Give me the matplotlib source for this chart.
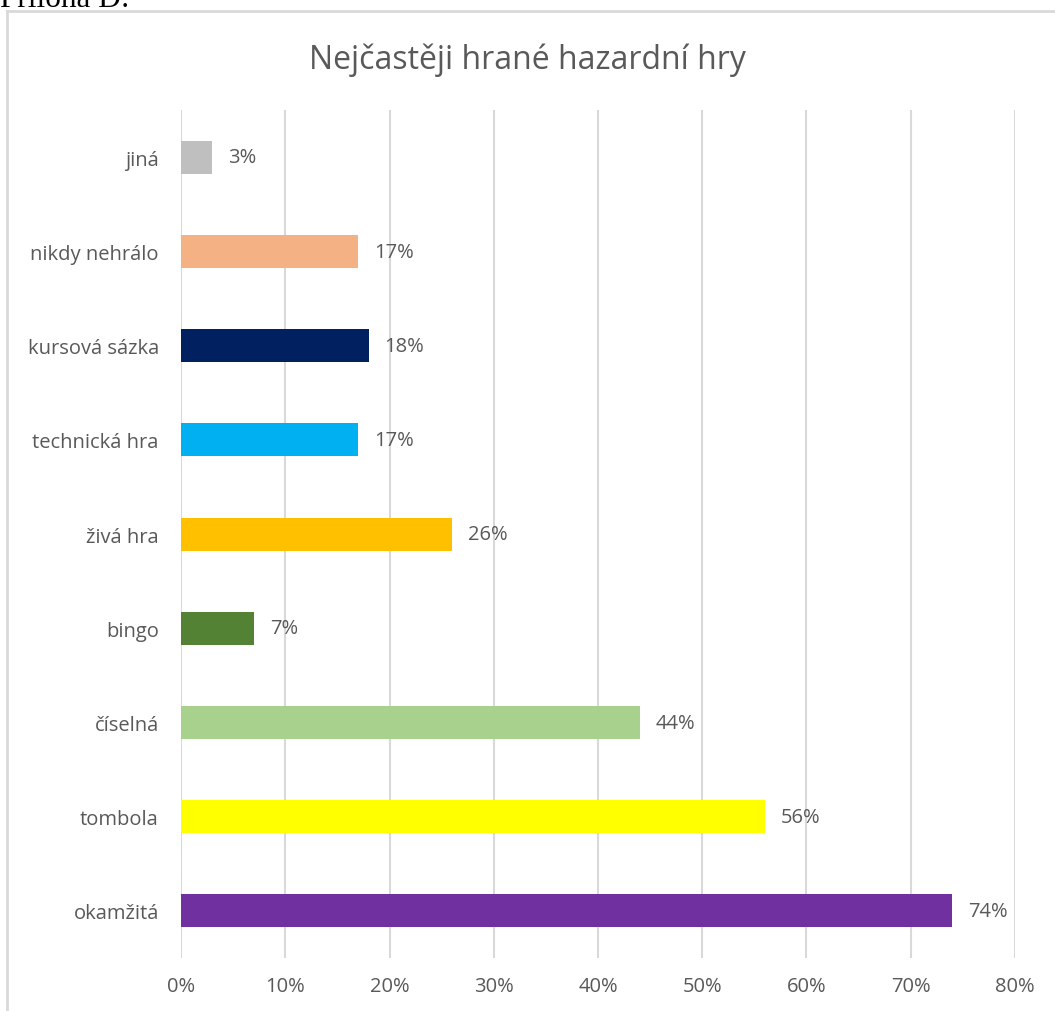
import matplotlib
matplotlib.use("Agg")
import matplotlib.pyplot as plt
from matplotlib.lines import Line2D
from matplotlib.ticker import FuncFormatter

categories = ["okamžitá", "tombola", "číselná", "bingo", "živá hra",
              "technická hra", "kursová sázka", "nikdy nehrálo", "jiná"]
values = [74, 56, 44, 7, 26, 17, 18, 17, 3]
colors = ["#7030A0", "#FFFF00", "#A9D18E", "#548235", "#FFC000",
          "#00B0F0", "#002060", "#F4B183", "#BFBFBF"]
x_ticks = [0, 10, 20, 30, 40, 50, 60, 70, 80]

plt.rcParams["font.family"] = ["Open Sans", "DejaVu Sans"]
text_color = "#595959"

fig = plt.figure(figsize=(10.55, 10.12), dpi=100)
ax = fig.add_axes([0.1716, 0.0524, 0.7904, 0.8376])

ypos = list(range(len(categories)))
ax.barh(ypos, values, height=0.35, color=colors, zorder=3)
for y, v in zip(ypos, values):
    ax.text(v + 1.5, y, f"{v}%", va="center", ha="left",
            fontsize=14.5, color=text_color)

ax.set_xlim(0, 80)
ax.set_ylim(-0.5, len(categories) - 0.5)
ax.set_xticks(x_ticks)
ax.xaxis.set_major_formatter(FuncFormatter(lambda v, _: f"{v:.0f}%"))
ax.set_yticks(ypos)
ax.set_yticklabels(categories)
ax.tick_params(axis="both", length=0, labelsize=14.5, colors=text_color)
ax.tick_params(axis="x", pad=13)
ax.tick_params(axis="y", pad=16)
ax.grid(axis="x", color="#D9D9D9", linewidth=1.5, zorder=0)
for s in ax.spines.values():
    s.set_visible(False)

fig.text(0.5, 0.940, "Nejčastěji hrané hazardní hry", ha="center",
         va="center", fontsize=23, color=text_color)

# chart frame (extends past the page crop)
frame = dict(color="#D9D9D9", linewidth=2, transform=fig.transFigure)
fig.add_artist(Line2D([7 / 1055, 7 / 1055], [0, 1 - 12 / 1012], **frame))
fig.add_artist(Line2D([7 / 1055, 1054 / 1055], [1 - 12 / 1012, 1 - 12 / 1012], **frame))

fig.text(0.0, 1 - 7 / 1012, "Příloha D:", ha="left", va="baseline",
         fontsize=22.5, family="Liberation Serif", color="black")

fig.savefig("out.png", dpi=100)
